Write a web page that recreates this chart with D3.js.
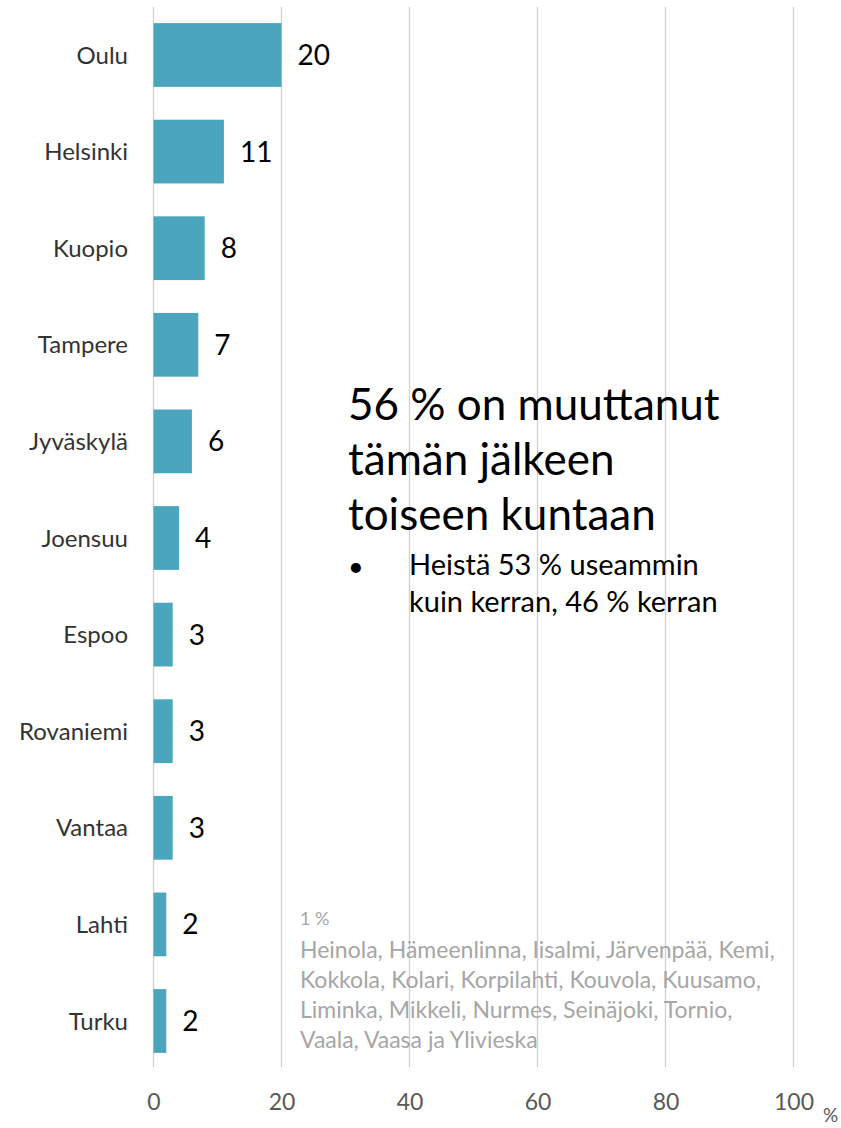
<!DOCTYPE html>
<html>
<head>
<meta charset="utf-8">
<script src="https://cdn.jsdelivr.net/npm/d3@7"></script>
<style>
  body { margin: 0; background: #fff; }
  svg { display: block; font-family: Lato, "Open Sans", sans-serif; }
</style>
</head>
<body>
<svg></svg>
<script>
const w = 841;
const h = 1128;

const cities = ['Oulu', 'Helsinki', 'Kuopio', 'Tampere', 'Jyväskylä', 'Joensuu', 'Espoo', 'Rovaniemi', 'Vantaa', 'Lahti', 'Turku'];
const shares = [20, 11, 8, 7, 6, 4, 3, 3, 3, 2, 2];
const ticks = [0, 20, 40, 60, 80, 100];

const headline = ['56 % on muuttanut', 'tämän jälkeen', 'toiseen kuntaan'];
const bullet = ['Heistä 53 % useammin', 'kuin kerran, 46 % kerran'];
const smallNote = ['1 %', 'Heinola, Hämeenlinna, Iisalmi, Järvenpää, Kemi,', 'Kokkola, Kolari, Korpilahti, Kouvola, Kuusamo,', 'Liminka, Mikkeli, Nurmes, Seinäjoki, Tornio,', 'Vaala, Vaasa ja Ylivieska'];

const svg = d3.select('svg').attr('width', w).attr('height', h);

const x = d3.scaleLinear().domain([0, 100]).range([153.5, 793.5]);
const y = d3.scaleBand().domain(cities).range([6.7, 1069.3]).paddingInner(0.34).paddingOuter(0.17);

// gridlines
svg.selectAll('line.grid')
  .data(ticks)
  .enter()
  .append('line')
  .attr('x1', d => x(d))
  .attr('x2', d => x(d))
  .attr('y1', 7)
  .attr('y2', 1067)
  .attr('stroke', '#d0d0d0')
  .attr('stroke-width', 1.3);

// bars
svg.selectAll('rect.bar')
  .data(cities)
  .enter()
  .append('rect')
  .attr('x', x(0))
  .attr('y', d => y(d))
  .attr('width', (d, i) => x(shares[i]) - x(0))
  .attr('height', y.bandwidth())
  .attr('fill', '#4ba6bd');

// value labels
svg.selectAll('text.val')
  .data(cities)
  .enter()
  .append('text')
  .attr('x', (d, i) => x(shares[i]) + 16)
  .attr('y', d => y(d) + y.bandwidth() / 2)
  .attr('dy', '0.36em')
  .attr('font-size', 28)
  .attr('fill', '#000')
  .text((d, i) => shares[i]);

// category labels
svg.selectAll('text.cat')
  .data(cities)
  .enter()
  .append('text')
  .attr('x', 128)
  .attr('y', d => y(d) + y.bandwidth() / 2)
  .attr('dy', '0.36em')
  .attr('text-anchor', 'end')
  .attr('font-size', 24)
  .attr('fill', '#333')
  .text(d => d);

// x axis labels
const axis = d3.axisBottom(x).tickValues(ticks).tickSize(0).tickPadding(0);
const ag = svg.append('g').attr('transform', 'translate(0,1094)').call(axis);
ag.select('.domain').remove();
ag.selectAll('text')
  .attr('font-family', 'Lato, "Open Sans", sans-serif')
  .attr('font-size', 23)
  .attr('fill', '#595959');

svg.append('text')
  .attr('x', 823)
  .attr('y', 1122)
  .attr('font-size', 19)
  .attr('fill', '#595959')
  .text('%');

// headline annotation
svg.append('g').selectAll('text')
  .data(headline)
  .enter()
  .append('text')
  .attr('x', 348)
  .attr('y', (d, i) => 420 + i * 55)
  .attr('font-size', 44)
  .attr('fill', '#000')
  .text(d => d);

svg.append('text')
  .attr('x', 348)
  .attr('y', 576)
  .attr('font-size', 27)
  .text('•');

svg.append('g').selectAll('text')
  .data(bullet)
  .enter()
  .append('text')
  .attr('x', 409)
  .attr('y', (d, i) => 575 + i * 37)
  .attr('font-size', 29)
  .attr('fill', '#000')
  .text(d => d);

// small grey note
svg.append('g').selectAll('text')
  .data(smallNote)
  .enter()
  .append('text')
  .attr('x', 300)
  .attr('y', (d, i) => i === 0 ? 925 : 928 + i * 30)
  .attr('fill', '#a6a6a6')
  .attr('font-size', (d, i) => i === 0 ? 18 : 23)
  .text(d => d);
</script>
</body>
</html>
